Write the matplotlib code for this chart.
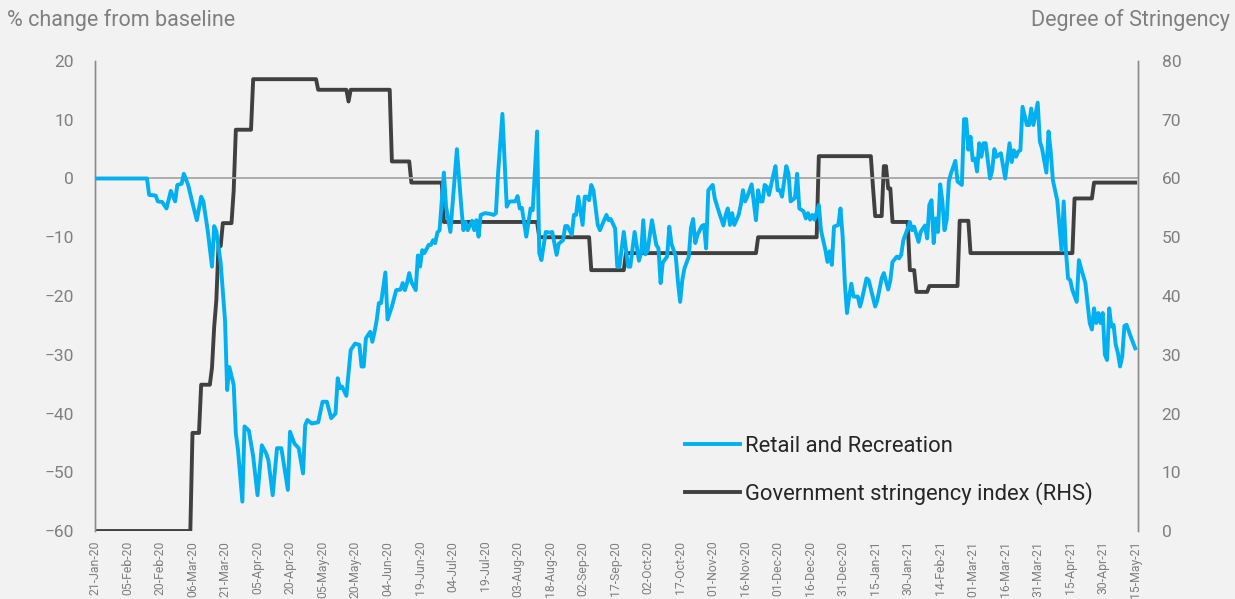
import numpy as np
import pandas as pd
import matplotlib
matplotlib.use("Agg")
import matplotlib.pyplot as plt

plt.rcParams['font.family'] = ['Roboto', 'DejaVu Sans']

start = pd.Timestamp('2020-01-21')
end = pd.Timestamp('2021-05-15')

# retail & recreation (days since 21-Jan-20, % change)
retail_day = [
    0, 24, 25, 28, 29, 31, 33, 35, 37, 38,
    40, 41, 43, 45, 47, 49, 50, 52, 54, 55,
    56, 58, 60, 61, 62, 64, 65, 66, 68, 69,
    71, 73, 75, 77, 79, 80, 82, 84, 86, 89,
    90, 92, 94, 96, 97, 98, 100, 103, 105, 107,
    109, 111, 112, 113, 114, 116, 118, 120, 122, 123,
    124, 125, 127, 128, 129, 130, 131, 132, 134, 135,
    137, 139, 141, 142, 143, 144, 145, 146, 148, 149,
    150, 151, 152, 154, 155, 156, 157, 158, 159, 161,
    162, 164, 167, 169, 170, 171, 172, 174, 175, 176,
    177, 178, 180, 182, 184, 185, 186, 188, 190, 191,
    192, 194, 195, 196, 197, 199, 201, 202, 204, 205,
    206, 208, 210, 211, 213, 214, 216, 217, 218, 220,
    221, 222, 223, 225, 226, 227, 228, 229, 230, 232,
    233, 234, 236, 237, 238, 240, 241, 242, 244, 246,
    247, 249, 251, 252, 253, 254, 255, 257, 259, 260,
    261, 262, 264, 265, 266, 268, 269, 270, 271, 272,
    274, 275, 276, 277, 278, 280, 281, 282, 283, 285,
    286, 288, 290, 291, 292, 293, 294, 295, 297, 298,
    299, 300, 301, 303, 305, 306, 307, 308, 309, 310,
    311, 313, 314, 315, 316, 317, 319, 320, 321, 323,
    324, 325, 327, 328, 329, 330, 331, 332, 334, 335,
    336, 337, 338, 339, 340, 341, 343, 344, 345, 346,
    347, 348, 349, 350, 352, 353, 354, 356, 357, 358,
    360, 361, 363, 364, 365, 366, 367, 368, 370, 371,
    372, 373, 375, 376, 377, 378, 380, 381, 383, 384,
    385, 386, 387, 388, 389, 390, 391, 392, 393, 394,
    395, 397, 398, 400, 401, 402, 403, 404, 405, 406,
    407, 408, 409, 410, 411, 413, 414, 415, 416, 418,
    420, 422, 423, 424, 425, 426, 427, 428, 430, 431,
    432, 433, 435, 436, 437, 439, 440, 441, 442, 444,
    446, 447, 448, 449, 450, 451, 453, 454, 455, 457,
    458, 459, 460, 461, 462, 463, 464, 465, 466, 467,
    468, 469, 470, 471, 472, 473, 474, 475, 476, 478,
    480,
]
retail_val = [
    0, 0, -2.8, -2.9, -3.9, -4.0, -5.1, -2.1, -3.9, -1.1,
    -0.9, 0.8, -1.1, -4.2, -7.1, -3.1, -3.9, -8.8, -15.0, -8.1,
    -9.0, -14.4, -24.1, -36.0, -32.1, -35.1, -43.4, -46.2, -55.0, -42.2,
    -42.9, -47.3, -53.9, -45.4, -46.8, -47.9, -53.9, -45.9, -45.9, -53.0,
    -43.1, -45.1, -45.9, -50.2, -42.0, -41.1, -41.7, -41.5, -38.0, -38.0,
    -40.8, -40.0, -34.0, -35.7, -35.4, -37.0, -29.2, -28.1, -28.3, -32.0,
    -32.0, -27.2, -26.1, -27.8, -26.1, -24.1, -21.2, -21.2, -16.0, -24.0,
    -21.8, -19.0, -18.9, -17.8, -19.0, -17.8, -16.1, -17.6, -19.0, -13.1,
    -15.0, -12.2, -12.7, -11.3, -11.3, -10.5, -11.0, -9.2, -8.8, 1.0,
    -4.8, -9.1, 5.0, -4.7, -8.8, -7.4, -8.8, -7.2, -8.8, -7.1,
    -9.9, -6.2, -5.9, -6.0, -6.2, -5.9, 0.9, 11.0, -4.8, -4.0,
    -3.9, -3.9, -3.0, -5.1, -5.0, -9.9, -5.1, -5.4, 8.0, -12.7,
    -13.9, -9.1, -9.2, -9.1, -13.0, -11.1, -10.5, -8.1, -8.1, -9.6,
    -6.2, -6.2, -3.1, -7.9, -3.1, -3.1, -3.7, -1.1, -2.0, -7.9,
    -8.8, -7.9, -6.2, -7.1, -6.9, -8.5, -15.0, -15.0, -9.1, -15.0,
    -15.0, -9.1, -14.0, -12.7, -7.1, -12.9, -12.3, -7.1, -11.3, -11.9,
    -17.8, -14.3, -13.3, -8.2, -11.1, -13.3, -17.6, -21.0, -17.3, -15.3,
    -13.3, -8.4, -6.9, -11.0, -9.6, -8.1, -7.9, -11.9, -2.0, -1.1,
    -3.4, -5.8, -8.0, -6.2, -5.1, -7.9, -5.9, -7.9, -6.2, -4.5,
    -2.0, -3.9, -3.1, -1.0, -7.1, -2.0, -3.9, -3.9, -1.1, -1.4,
    -2.8, 0.6, 2.1, -2.0, -2.0, -3.1, 2.1, 0.8, -3.9, -3.3,
    0.8, -5.1, -5.6, -6.8, -5.9, -7.0, -6.2, -7.0, -4.5, -8.8,
    -10.5, -12.1, -14.2, -12.4, -14.7, -8.2, -7.9, -5.1, -9.9, -17.8,
    -22.9, -20.1, -17.9, -20.1, -20.1, -21.8, -20.4, -17.0, -17.3, -18.8,
    -21.8, -20.7, -17.0, -16.1, -17.5, -18.9, -17.3, -14.2, -13.3, -13.6,
    -13.0, -10.5, -8.5, -7.4, -8.8, -8.2, -10.8, -9.1, -8.0, -10.2,
    -4.5, -3.7, -11.0, -6.8, -9.1, -1.0, -3.9, -8.8, -7.0, -0.5,
    0.9, 3.0, -0.5, -1.1, 10.1, 10.1, 4.9, 7.1, 3.1, 3.4,
    1.2, 6.0, 3.7, 6.0, 6.0, 0.0, 1.4, 5.0, 3.7, 4.3,
    0.0, 6.0, 2.8, 4.8, 3.7, 4.6, 4.8, 12.2, 9.1, 9.1,
    11.9, 9.1, 12.9, 6.3, 5.1, 1.0, 8.0, 4.6, -0.3, -3.7,
    -12.2, -3.9, -12.2, -17.0, -17.3, -19.0, -21.0, -13.9, -15.3, -17.8,
    -21.3, -24.6, -25.7, -22.1, -24.6, -22.9, -24.6, -22.9, -30.0, -30.9,
    -22.1, -25.2, -24.9, -28.3, -29.7, -32.0, -30.3, -25.1, -24.9, -27.0,
    -28.9,
]

# stringency index as runs: level and number of days it holds
stringency_level = [0, 16.7, 24.9, 27.8, 34.7, 39.3, 48.5, 52.4, 57.9, 68.3,
                    76.9, 75.1, 73.1, 75.1, 62.9, 59.3, 52.6, 50.0, 44.4, 47.3,
                    50.0, 63.8, 58.5, 53.6, 62.1, 58.3, 52.6, 44.4, 40.7, 41.7,
                    52.8, 47.3, 56.6, 59.3]
stringency_days = [45, 4, 5, 1, 1, 1, 2, 5, 1, 8,
                   30, 14, 1, 19, 9, 15, 44, 24, 16, 61,
                   28, 25, 1, 4, 2, 2, 8, 3, 6, 14,
                   5, 48, 9, 20]

retail_dates = start + pd.to_timedelta(retail_day, unit='D')
str_vals = np.repeat(stringency_level, stringency_days)
str_dates = pd.date_range(start, periods=len(str_vals), freq='D')

grey_txt = '#7F7F7F'
bg = '#F2F2F2'

fig = plt.figure(figsize=(12.35, 5.99), dpi=100, facecolor=bg)
ax = fig.add_axes([0.0769, 0.1135, 0.8446, 0.7847])
ax2 = ax.twinx()
ax.set_zorder(ax2.get_zorder() + 1)
ax.patch.set_visible(False)
ax2.patch.set_facecolor(bg)
ax2.patch.set_visible(True)

ax.axhline(0, color='#A6A6A6', lw=1.3, zorder=1)
l1, = ax.plot(retail_dates, retail_val, color='#00B0F0', lw=2.8,
              solid_joinstyle='round', label='Retail and Recreation', zorder=3)
l2, = ax2.plot(str_dates, str_vals, color='#404040', lw=2.8,
               solid_joinstyle='round', label='Government stringency index (RHS)')

ax.set_ylim(-60, 20)
ax2.set_ylim(0, 80)
ax.set_yticks(range(-60, 21, 10))
ax2.set_yticks(range(0, 81, 10))
ax.set_xlim(start, start + pd.Timedelta(days=481.3))

ticks = pd.date_range(start, end, freq='15D')
ax.set_xticks(ticks)
ax.set_xticklabels([t.strftime('%d-%b-%y') for t in ticks], rotation=90)
ax.tick_params(axis='x', length=0, pad=7, labelsize=8.8, labelcolor=grey_txt)
ax.tick_params(axis='y', length=0, pad=15, labelsize=12.5, labelcolor=grey_txt)
ax2.tick_params(axis='y', length=0, pad=17, labelsize=12.5, labelcolor=grey_txt)

for a in (ax, ax2):
    for s in ('top', 'bottom'):
        a.spines[s].set_visible(False)
    a.spines['left'].set_color('#8C8C8C')
    a.spines['right'].set_color('#8C8C8C')
    a.spines['left'].set_linewidth(1)
    a.spines['right'].set_linewidth(1)

fig.text(0.006, 0.967, '% change from baseline', fontsize=15.5, color=grey_txt,
         ha='left', va='center')
fig.text(0.996, 0.967, 'Degree of Stringency', fontsize=15.5, color=grey_txt,
         ha='right', va='center')

leg = ax.legend([l1, l2], [l1.get_label(), l2.get_label()], loc='upper left',
                bbox_to_anchor=(0.547, 0.245), frameon=False, fontsize=15.8,
                handlelength=2.5, handletextpad=0.2, labelspacing=1.17)
for t in leg.get_texts():
    t.set_color('#262626')

fig.savefig('out.png', dpi=100, facecolor=bg)
